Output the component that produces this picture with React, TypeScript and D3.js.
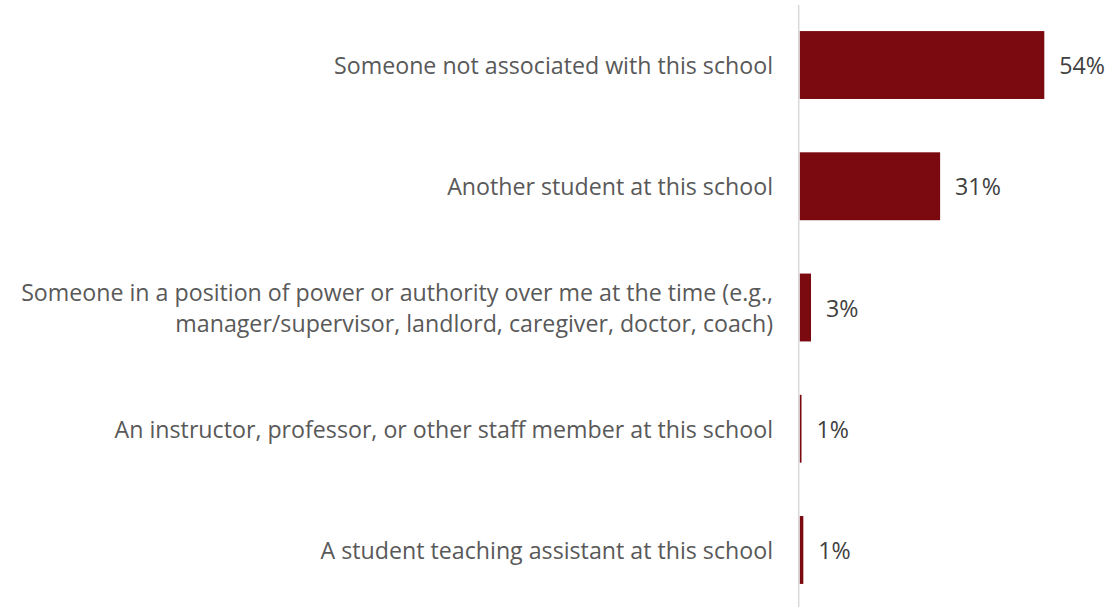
import React from "react";
import * as d3 from "d3";

const categories: string[][] = [
  ["Someone not associated with this school"],
  ["Another student at this school"],
  [
    "Someone in a position of power or authority over me at the time (e.g.,",
    "manager/supervisor, landlord, caregiver, doctor, coach)",
  ],
  ["An instructor, professor, or other staff member at this school"],
  ["A student teaching assistant at this school"],
];
const values: number[] = [54, 31, 2.5, 0.4, 0.8];
const valueLabels: string[] = ["54%", "31%", "3%", "1%", "1%"];

const W = 1109;
const H = 607;
const FONT = "'Open Sans', sans-serif";
const FS = 23.2;

export default function App() {
  const x = d3.scaleLinear().domain([0, 54]).range([799.7, 1044.3]);
  const idx = categories.map((_, i) => i);
  const y = d3
    .scaleBand<number>()
    .domain(idx)
    .range([4.4, 610.6])
    .paddingInner(0.44)
    .paddingOuter(0.22);
  const lineH = 31;
  return (
    <svg
      width={W}
      height={H}
      style={{ position: "absolute", left: 0, top: 0, background: "#fff" }}
      fontFamily={FONT}
    >
      {idx.map((i) => {
        const yc = (y(i) as number) + y.bandwidth() / 2;
        const lines = categories[i];
        const y0 = yc - ((lines.length - 1) * lineH) / 2;
        return (
          <g key={i}>
            <rect
              x={x(0)}
              y={y(i)}
              width={x(values[i]) - x(0)}
              height={y.bandwidth()}
              fill="#7a0a10"
            />
            {lines.map((t, j) => (
              <text
                key={j}
                x={773}
                y={y0 + j * lineH}
                textAnchor="end"
                dominantBaseline="central"
                fontSize={FS}
                fill="#595959"
              >
                {t}
              </text>
            ))}
            <text
              x={x(values[i]) + 15}
              y={yc}
              dominantBaseline="central"
              fontSize={FS}
              fill="#404040"
            >
              {valueLabels[i]}
            </text>
          </g>
        );
      })}
      <line x1={x(0) - 1} x2={x(0) - 1} y1={5} y2={H} stroke="#d9d9d9" strokeWidth={1.5} />
    </svg>
  );
}
